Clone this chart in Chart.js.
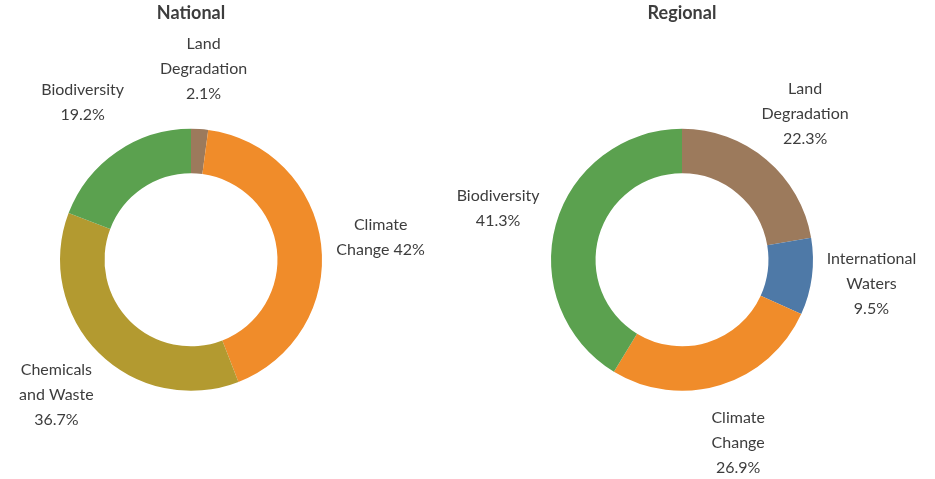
<!DOCTYPE html>
<html>
<head>
<meta charset="utf-8">
<script src="https://cdn.jsdelivr.net/npm/chart.js@4.4.1/dist/chart.umd.min.js"></script>
<style>
  html, body { margin: 0; padding: 0; background: #fff; }
  #wrap { position: relative; width: 935px; height: 479px; }
  .box { position: absolute; top: 0; height: 479px; }
  #nationalBox { left: 0; width: 445px; }
  #regionalBox { left: 445px; width: 490px; }
</style>
</head>
<body>
<div id="wrap">
  <div class="box" id="nationalBox"><canvas id="nationalChart"></canvas></div>
  <div class="box" id="regionalBox"><canvas id="regionalChart"></canvas></div>
</div>
<script>
var nationalCategories = ['Land Degradation', 'Climate Change', 'Chemicals and Waste', 'Biodiversity'];
var nationalValues = [2.1, 42, 36.7, 19.2];
var nationalColors = ['#9c7a5c', '#f08c2a', '#b39a30', '#5ba14f'];
// how each label breaks into lines, {v} is the value
var nationalLabelText = ['Land\nDegradation\n{v}', 'Climate\nChange {v}', 'Chemicals\nand Waste\n{v}', 'Biodiversity\n{v}'];

var regionalCategories = ['Land Degradation', 'International Waters', 'Climate Change', 'Biodiversity'];
var regionalValues = [22.3, 9.5, 26.9, 41.3];
var regionalColors = ['#9c7a5c', '#4e79a7', '#f08c2a', '#5ba14f'];
var regionalLabelText = ['Land\nDegradation\n{v}', 'International\nWaters\n{v}', 'Climate\nChange\n{v}', 'Biodiversity\n{v}'];

var textColor = '#3d3d3d';
var fontFamily = 'Lato, "Open Sans", sans-serif';

// draws the outside labels along each slice's middle angle
var sliceLabels = {
     id: 'sliceLabels',
     afterDatasetsDraw: function(chart, args, opts) {
          var ctx = chart.ctx;
          var meta = chart.getDatasetMeta(0);
          var values = chart.data.datasets[0].data;
          ctx.save();
          ctx.font = opts.fontSize + 'px ' + fontFamily;
          ctx.fillStyle = textColor;
          ctx.textAlign = 'center';
          ctx.textBaseline = 'middle';
          meta.data.forEach(function(arc, i) {
               var p = arc.getProps(['x', 'y', 'startAngle', 'endAngle', 'outerRadius'], true);
               var mid = (p.startAngle + p.endAngle) / 2;
               var r = p.outerRadius + opts.offset;
               var cx = p.x + Math.cos(mid) * r;
               var cy = p.y + Math.sin(mid) * r;
               var lines = opts.text[i].replace('{v}', values[i] + '%').split('\n');
               var top = cy - (lines.length - 1) * opts.lineHeight / 2;
               lines.forEach(function(line, k) {
                    ctx.fillText(line, cx, top + k * opts.lineHeight);
               });
          });
          ctx.restore();
     }
};

function doughnutChart(idName, title, labels, data, colors, labelText, pad) {
     new Chart(document.getElementById(idName), {
          type: 'doughnut',
          data: {
               labels: labels,
               datasets: [
                    {
                         data: data,
                         backgroundColor: colors,
                         borderWidth: 0
                    }
               ]
          },
          options: {
               responsive: true,
               maintainAspectRatio: false,
               animation: false,
               cutout: '66%',
               layout: {
                    padding: { top: 0, bottom: 88, left: pad.left, right: pad.right }
               },
               plugins: {
                    legend: { display: false },
                    tooltip: { enabled: false },
                    title: {
                         display: true,
                         text: title,
                         fullSize: false,
                         color: textColor,
                         font: { family: fontFamily, size: 18, weight: 'bold' },
                         padding: { top: 2, bottom: 105 }
                    },
                    sliceLabels: {
                         text: labelText,
                         offset: 60,
                         lineHeight: 25,
                         fontSize: 16
                    }
               }
          },
          plugins: [sliceLabels]
     });
}

doughnutChart('nationalChart', 'National', nationalCategories, nationalValues, nationalColors, nationalLabelText, { left: 60, right: 123 });
doughnutChart('regionalChart', 'Regional', regionalCategories, regionalValues, regionalColors, regionalLabelText, { left: 106, right: 122 });
</script>
</body>
</html>
